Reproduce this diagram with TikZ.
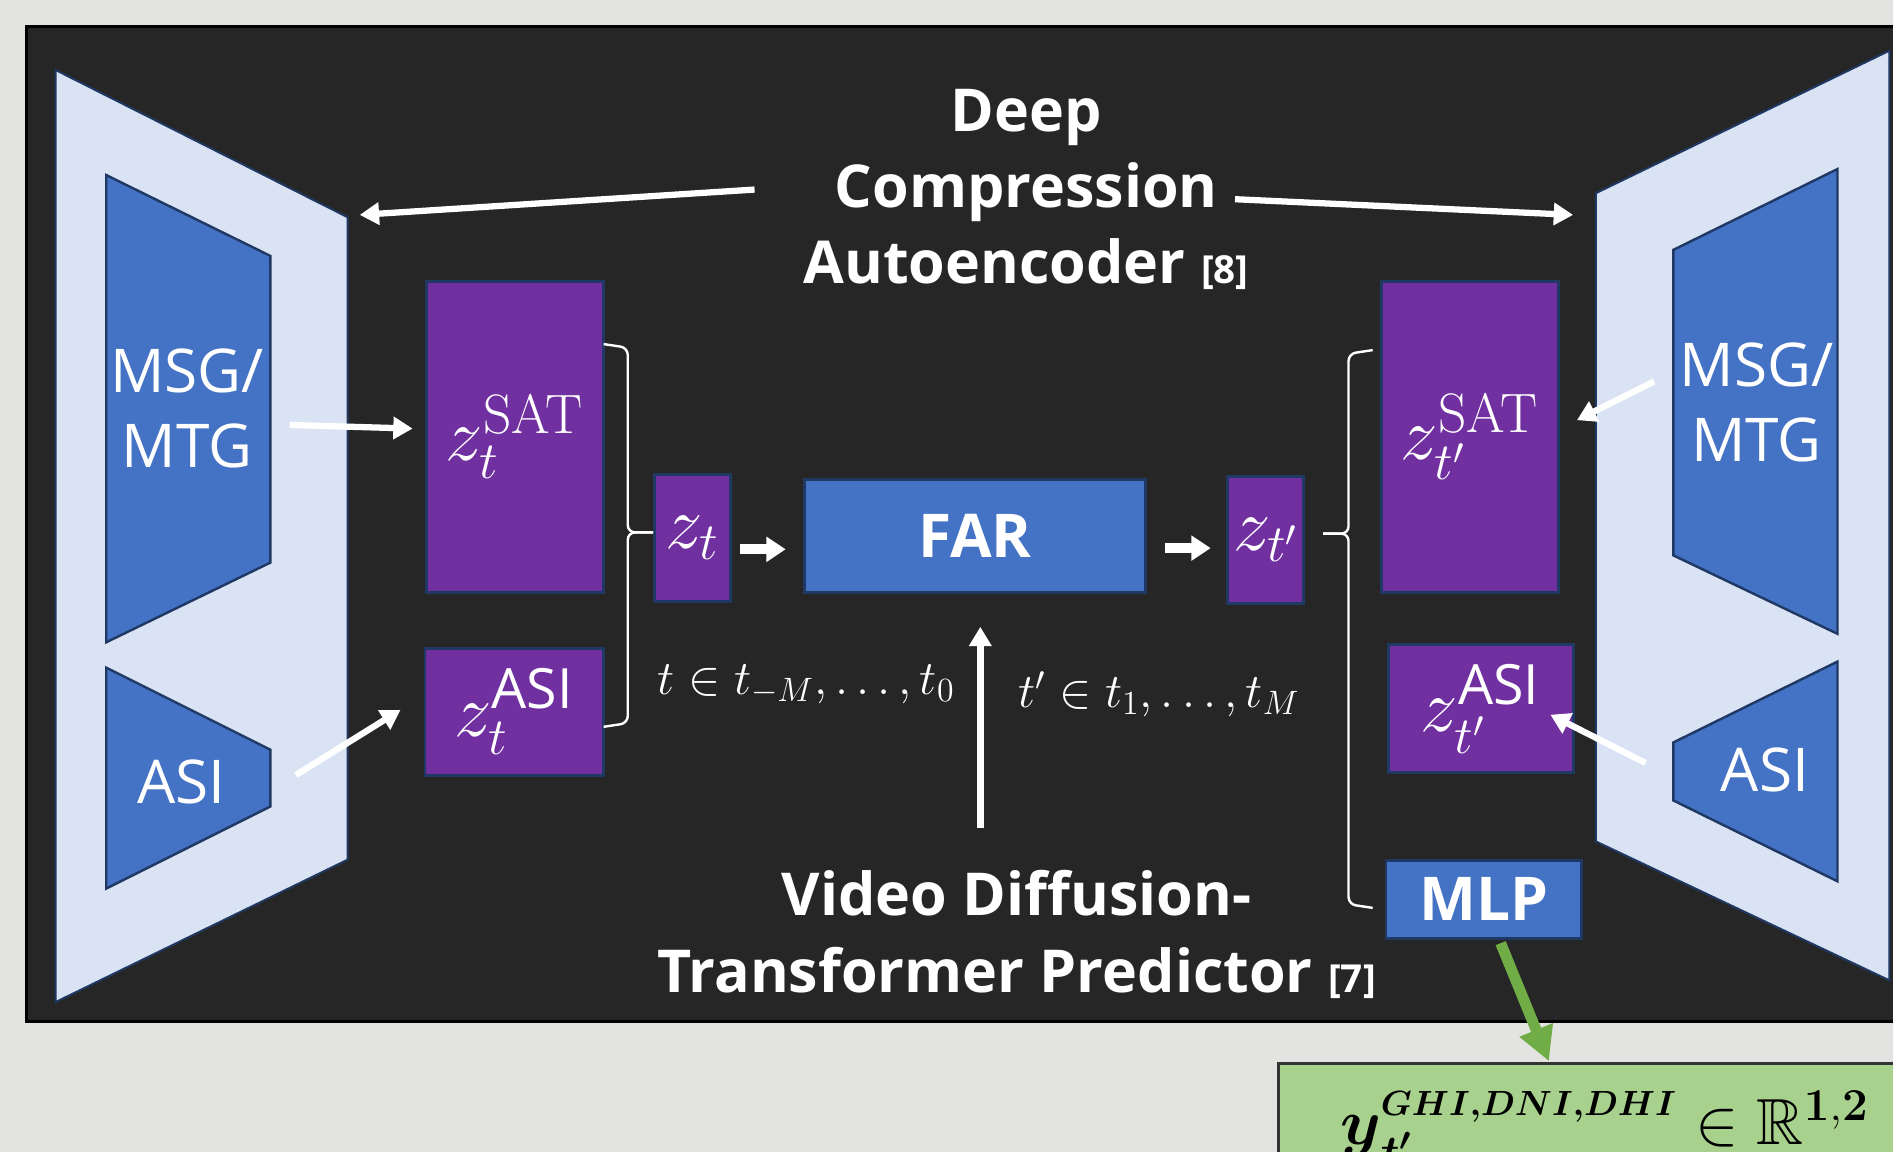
\documentclass[tikz,border=0pt]{standalone}
\usepackage{fix-cm}
\usepackage{amsmath}
\usepackage{amssymb}
\usepackage[no-math]{fontspec}
\usepackage{xcolor}
\usetikzlibrary{arrows.meta}
\usetikzlibrary{calc}

\newfontfamily\plainsans{Open Sans}
\newcommand{\supsat}{\mbox{\fontsize{23}{23}\selectfont$\mathrm{SAT}$}}
\newcommand{\supasi}{\mbox{\plainsans\fontsize{23}{23}\selectfont ASI}}

\definecolor{pagegrey}{HTML}{E3E3E1}
\definecolor{panel}{HTML}{262626}
\definecolor{paleblue}{HTML}{DAE3F3}
\definecolor{midblue}{HTML}{4472C4}
\definecolor{navy}{HTML}{1F3864}
\definecolor{latentpurple}{HTML}{7030A0}
\definecolor{latentedge}{HTML}{203864}
\definecolor{outgreen}{HTML}{A9D18E}
\definecolor{arrowgreen}{HTML}{70AD47}

\begin{document}
\begin{tikzpicture}[
    x=0.5pt, y=-0.5pt,
    trap/.style={fill=paleblue, draw=navy, line width=0.8pt},
    sensor/.style={fill=midblue, draw=navy, line width=1pt},
    latent/.style={draw=latentedge, fill=latentpurple, line width=1.2pt, text=white, inner sep=0pt, font=\fontsize{31}{34}\selectfont},
    block/.style={draw=latentedge, fill=midblue, line width=1.2pt, text=white, inner sep=0pt, font=\plainsans\bfseries\fontsize{25}{28}\selectfont},
    heading/.style={text=white, align=center, font=\plainsans\bfseries\fontsize{24.5}{31.5}\selectfont},
    sensorlabel/.style={text=white, align=center, font=\plainsans\fontsize{25}{31}\selectfont},
    timelabel/.style={text=white, font=\fontsize{20}{24}\selectfont},
    arrow/.style={-{Triangle[length=8pt,width=9pt]}, draw=white, line width=2.6pt},
    stub/.style={-{Triangle[length=8pt,width=10pt]}, draw=white, line width=4pt},
    outarrow/.style={-{Triangle[length=14pt,width=14pt]}, draw=arrowgreen, line width=4.5pt},
    bracket/.style={draw=white, line width=1pt, rounded corners=3pt}
]
    \useasboundingbox (0,0) rectangle (1568,954);
    \clip (0,0) rectangle (1568,954);

    % page and dark panel
    \fill[pagegrey] (0,0) rectangle (1568,954);
    \draw[fill=panel, draw=black, line width=1.5pt] (22,22) rectangle (1620,846);

    % encoder side
    \draw[trap] (46,58) -- (288,180) -- (288,712) -- (46,830) -- cycle;
    \draw[sensor] (88,145) -- (224,212) -- (224,466) -- (88,532) -- cycle;
    \draw[sensor] (88,553) -- (224,621) -- (224,668) -- (88,736) -- cycle;
    \node[sensorlabel] (msgIn) at (155,338) {MSG/\\MTG};
    \node[sensorlabel] (asiIn) at (150,648) {ASI};
    \coordinate (msgInEdge) at (224,339);
    \coordinate (asiInEdge) at (224,644);

    % decoder side
    \draw[trap] (1322,160) -- (1565,42) -- (1565,812) -- (1322,697) -- cycle;
    \draw[sensor] (1386,207) -- (1522,140) -- (1522,525) -- (1386,460) -- cycle;
    \draw[sensor] (1386,615) -- (1522,548) -- (1522,730) -- (1386,663) -- cycle;
    \node[sensorlabel] (msgOut) at (1455,333) {MSG/\\MTG};
    \node[sensorlabel] (asiOut) at (1462,638) {ASI};
    \coordinate (msgOutEdge) at (1386,333);
    \coordinate (asiOutEdge) at (1386,639);

    % latents
    \node[latent, minimum width=73.5pt, minimum height=129pt] (satIn) at (426.5,362) {$z_t^{\supsat}$};
    \node[latent, minimum width=74pt, minimum height=52.5pt] (asiInLat) at (426,589.5) {$z_t^{\supasi}$};
    \node[latent, minimum width=31.5pt, minimum height=52.5pt] (zt) at (573.5,445.5) {$z_t$};
    \node[block, minimum width=141.5pt, minimum height=47pt] (far) at (807.5,444) {FAR};
    \node[latent, minimum width=31.5pt, minimum height=52.5pt] (ztp) at (1048.5,447.5) {$z_{t'}$};
    \node[latent, minimum width=73.5pt, minimum height=129pt] (satOut) at (1217.5,362) {$z_{t'}^{\supsat}$};
    \node[latent, minimum width=76.5pt, minimum height=53pt] (asiOutLat) at (1226.5,587) {$z_{t'}^{\supasi}$};
    \node[block, minimum width=81pt, minimum height=32pt] (mlp) at (1229,745) {MLP};

    % headings and time ranges
    \node[heading] (dcae) at (850,157) {Deep\\Compression\\Autoencoder {\fontsize{16}{16}\selectfont[8]}};
    \node[heading] (vdt) at (842,774) {Video Diffusion-\\Transformer Predictor {\fontsize{16}{16}\selectfont[7]}};
    \node[timelabel] (tin) at (668,567) {$t \in t_{-M}, \ldots, t_0$};
    \node[timelabel] (tout) at (960,575) {$t' \in t_1, \ldots, t_M$};
    \coordinate (dcaeL) at (625,157);
    \coordinate (dcaeR) at (1023,165);
    \coordinate (encTop) at (298,178);
    \coordinate (decTop) at (1303,178);

    % output
    \node[draw=black!80, fill=outgreen, line width=1pt, minimum width=300pt, minimum height=75pt, anchor=north west] (ghi) at (1058,880) {};
    \node[anchor=base, font=\fontsize{27}{30}\selectfont] (ghiText) at (1329,948) {$\boldsymbol{y}_{\boldsymbol{t'}}^{\mbox{\fontsize{14.5}{14.5}\selectfont$\boldsymbol{GHI{,}DNI{,}DHI}$}} \in \mathbb{R}^{\mathbf{1{,}2}}$};

    % braces
    \draw[bracket] (500,285) -- (520,288) -- (520,441) -- (541,441);
    \draw[bracket] (500,602) -- (520,599) -- (520,441) -- (541,441);
    \draw[bracket] (1137,290) -- (1117,293) -- (1117,442) -- (1096,442);
    \draw[bracket] (1137,752) -- (1117,749) -- (1117,442) -- (1096,442);

    % arrows
    \draw[arrow] (dcaeL) -- (encTop);
    \draw[arrow] (dcaeR) -- (decTop);
    \draw[arrow] ($(msgInEdge)+(16,13)$) -- ($(satIn.west)+(-10,-7)$);
    \draw[arrow] ($(asiInEdge)+(21,-2)$) -- ($(asiInLat.west)+(-19,-1.5)$);
    \draw[arrow] ($(msgOutEdge)+(-16,-17)$) -- ($(satOut.east)+(14,-14)$);
    \draw[arrow] ($(asiOutEdge)+(-23,-7)$) -- ($(asiOutLat.east)+(-20,5)$);
    \draw[stub] ($(zt.east)+(7,9.5)$) -- ($(far.west)+(-14,11)$);
    \draw[stub] ($(far.east)+(15,10)$) -- ($(ztp.west)+(-13,6.5)$);
    \draw[arrow, line width=3pt] ($(far.south)+(4.5,194)$) -- ($(far.south)+(4.5,27)$);
    \draw[outarrow] ($(mlp.south)+(14,3)$) -- ($(ghi.north west)+(225,-1)$);
\end{tikzpicture}
\end{document}
